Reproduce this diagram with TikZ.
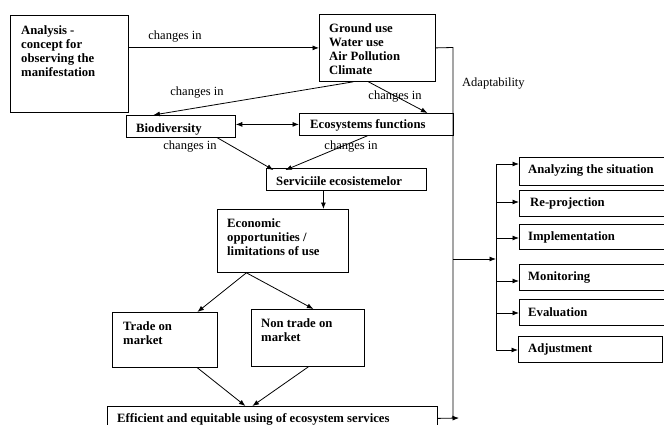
\documentclass[tikz,border=0pt]{standalone}
\usepackage{fontspec}
\setmainfont{Liberation Serif}
\usetikzlibrary{arrows.meta}
\tikzset{
  box/.style={draw, line width=0.8pt, rectangle, inner sep=0pt, anchor=north west},
  txt/.style={font=\fontsize{12.7}{14}\selectfont\bfseries, align=left, inner sep=0pt, anchor=north west},
  ltxt/.style={font=\fontsize{12.7}{14}\selectfont\bfseries, inner sep=0pt, anchor=west},
  lab/.style={font=\fontsize{12.5}{14}\selectfont, inner sep=0pt},
  conn/.style={line width=0.8pt},
  arr/.style={line width=0.8pt, -{Latex[length=6.5pt,width=5pt]}},
  darr/.style={line width=0.8pt, {Latex[length=6.5pt,width=5pt]}-{Latex[length=6.5pt,width=5pt]}},
}
\begin{document}
\begin{tikzpicture}[x=1pt,y=-1pt]
\useasboundingbox (0,0) rectangle (664,425);
\clip (0,0) rectangle (664,425);
\fill[white] (0,0) rectangle (664,425);

% boxes
\node[box, minimum width=118, minimum height=97] (ana) at (10,15) {};
\node[txt] (anat) at (21,25.5) {Analysis -\\concept for\\observing the\\manifestation};

\node[box, minimum width=116, minimum height=67] (gr) at (319,14) {};
\node[txt] (grt) at (329,23.5) {Ground use\\Water use\\Air Pollution\\Climate};

\node[box, minimum width=109, minimum height=22] (bio) at (126,115) {};
\node[ltxt] (biot) at (136,129) {Biodiversity};

\node[box, minimum width=154, minimum height=22] (eco) at (299,113) {};
\node[ltxt] (ecot) at (310,125) {Ecosystems functions};

\node[box, minimum width=160, minimum height=22] (ser) at (266,168) {};
\node[ltxt] (sert) at (276,181) {Serviciile ecosistemelor};

\node[box, minimum width=131, minimum height=63] (econ) at (217,209) {};
\node[txt] (econt) at (227,218.5) {Economic\\opportunities /\\limitations of use};

\node[box, minimum width=105, minimum height=55] (trade) at (112,312) {};
\node[txt] (tradet) at (123,321.5) {Trade on\\market};

\node[box, minimum width=113, minimum height=57] (ntrade) at (251,309) {};
\node[txt] (ntradet) at (261,318.5) {Non trade on\\market};

\node[box, minimum width=330, minimum height=24] (eff) at (107,406) {};
\node[ltxt] (efft) at (117,419.5) {Efficient and equitable using of ecosystem services};

% right column
\node[box, minimum width=150, minimum height=28] (r1) at (519,157) {};
\node[ltxt] (r1t) at (528,170) {Analyzing the situation};
\node[box, minimum width=150, minimum height=26] (r2) at (519,190) {};
\node[ltxt] (r2t) at (530,203) {Re-projection};
\node[box, minimum width=150, minimum height=25] (r3) at (519,224) {};
\node[ltxt] (r3t) at (528,237) {Implementation};
\node[box, minimum width=150, minimum height=26] (r4) at (519,264) {};
\node[ltxt] (r4t) at (528,277) {Monitoring};
\node[box, minimum width=150, minimum height=26] (r5) at (519,299) {};
\node[ltxt] (r5t) at (528,312) {Evaluation};
\node[box, minimum width=144, minimum height=26] (r6) at (518,336) {};
\node[ltxt] (r6t) at (528,349) {Adjustment};

% labels
\node[lab] (l1) at (175,37) {changes in};
\node[lab] (l2) at (197,93) {changes in};
\node[lab] (l3) at (395,97) {changes in};
\node[lab] (l4) at (190,147) {changes in};
\node[lab] (l5) at (351,147) {changes in};
\node[lab, anchor=west] (l6) at (462,84) {Adaptability};

% connectors
\draw[arr] (ana.east |- gr.west) -- (gr.west);
\draw[arr] ([xshift=-24]gr.south) -- ([xshift=-27.5]bio.north);
\draw[arr] ([xshift=-9]gr.south) -- ([xshift=51]eco.north);
\draw[darr] (bio.east |- eco.west) -- (eco.west);
\draw[arr] ([xshift=36.5]bio.south) -- ([xshift=-73,yshift=-2]ser.north);
\draw[arr] ([xshift=-9]eco.south) -- ([xshift=-61,yshift=-2]ser.north);
\draw[arr] ([xshift=-23]ser.south) -- ([xshift=-23]ser.south |- econ.north);
\draw[arr] ([xshift=-36.5]econ.south) -- ([xshift=32.5]trade.north);
\draw[arr] ([xshift=-36.5]econ.south) -- ([xshift=5.5]ntrade.north);
\draw[arr] ([xshift=32.5]trade.south) -- ([xshift=-27]eff.north);
\draw[arr] ([xshift=0.5]ntrade.south) -- ([xshift=-20]eff.north);

% adaptability loop
\coordinate (a1) at (453,47.5);
\coordinate (a2) at (453,418);
\coordinate (effend) at (459,418);
\coordinate (br) at (453,259);
\coordinate (bt) at (496,164);
\coordinate (bb) at (496,350);
\draw[conn] (gr.east) -- (a1) -- (a2);
\draw[arr] (eff.east) -- (effend);
\draw[arr] (br) -- (br -| bt);
\draw[conn] (bt) -- (bb);
\coordinate (c1) at (496,164);
\coordinate (c2) at (496,202);
\coordinate (c3) at (496,238);
\coordinate (c4) at (496,281);
\coordinate (c5) at (496,313);
\coordinate (c6) at (496,350);
\draw[arr] (c1) -- (c1 -| r1.west);
\draw[arr] (c2) -- (c2 -| r2.west);
\draw[arr] (c3) -- (c3 -| r3.west);
\draw[arr] (c4) -- (c4 -| r4.west);
\draw[arr] (c5) -- (c5 -| r5.west);
\draw[arr] (c6) -- (c6 -| r6.west);
\end{tikzpicture}
\end{document}
